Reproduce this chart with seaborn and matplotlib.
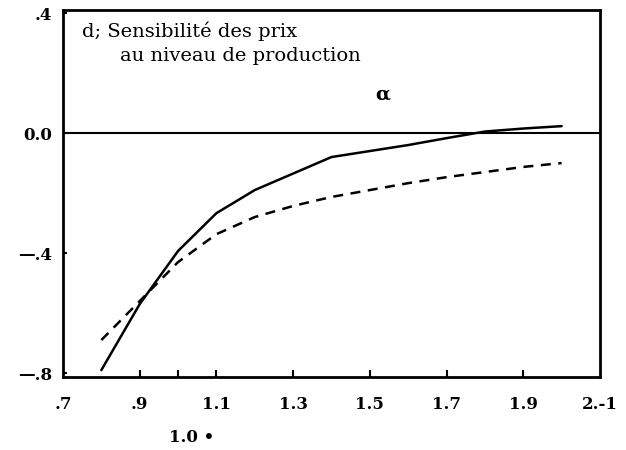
import matplotlib
matplotlib.use("Agg")
import matplotlib.pyplot as plt
import seaborn as sns
import pandas as pd

# ---- data ----
x_vals = [0.8, 0.9, 1.0, 1.1, 1.2, 1.3, 1.4, 1.5, 1.6, 1.7, 1.8, 1.9, 2.0]
solid_vals = [-0.79, -0.57, -0.393, -0.267, -0.19, -0.135, -0.08, -0.06, -0.04, -0.017, 0.005, 0.015, 0.023]
dashed_vals = [-0.69, -0.56, -0.43, -0.337, -0.28, -0.243, -0.213, -0.19, -0.167, -0.147, -0.13, -0.113, -0.10]

xtick_pos = [0.7, 0.9, 1.1, 1.3, 1.5, 1.7, 1.9, 2.1]
xtick_labels = [".7", ".9", "1.1", "1.3", "1.5", "1.7", "1.9", "2.-1"]
xtick_marks = [0.9, 1.0, 1.1, 1.3, 1.5, 1.7, 1.9]
ytick_pos = [0.4, 0.0, -0.4, -0.8]
ytick_labels = [".4", "0.0", "\u2014.4", "\u2014.8"]
title_lines = ["d; Sensibilit\u00e9 des prix", "au niveau de production"]

sns.set_theme(style="white")
plt.rcParams["font.family"] = ["DejaVu Serif", "DejaVu Sans"]
plt.rcParams["text.color"] = "black"
plt.rcParams["xtick.color"] = "black"
plt.rcParams["ytick.color"] = "black"

df = pd.DataFrame({"x": x_vals, "solid": solid_vals, "dashed": dashed_vals})

fig = plt.figure(figsize=(6.26, 4.5), dpi=100)
ax = fig.add_axes([63 / 626, 1 - 377 / 450, (600 - 63) / 626, (377 - 10) / 450])

sns.lineplot(data=df, x="x", y="solid", ax=ax, color="black", lw=1.8)
sns.lineplot(data=df, x="x", y="dashed", ax=ax, color="black", lw=1.8, linestyle=(0, (4, 3)))

ax.axhline(0.0, color="black", lw=1.5)

ax.set_xlim(0.7, 2.1)
ax.set_ylim(-0.813, 0.41)

for s in ax.spines.values():
    s.set_color("black")
    s.set_linewidth(2.0)

ax.xaxis.remove_overlapping_locs = False
ax.set_xticks(xtick_pos)
ax.set_xticklabels(xtick_labels, fontsize=12, fontweight="bold", color="black")
ax.set_xticks(xtick_marks, minor=True)
ax.tick_params(axis="x", which="major", length=0, pad=14)
ax.tick_params(axis="x", which="minor", direction="in", length=5, width=1.5, bottom=True, color="black")

ax.set_yticks(ytick_pos)
ax.set_yticklabels(ytick_labels, fontsize=12, fontweight="bold", color="black")
ax.tick_params(axis="y", which="major", direction="in", length=3, width=1.5, left=True, pad=8, color="black")

ax.set_xlabel("")
ax.set_ylabel("")

fig.text(82 / 626, 1 - 37 / 450, title_lines[0], fontsize=14, va="baseline", ha="left", color="black")
fig.text(120 / 626, 1 - 61 / 450, title_lines[1], fontsize=14, va="baseline", ha="left", color="black")
fig.text(383 / 626, 1 - 95 / 450, "\u03b1", fontsize=14, fontweight="bold", va="center", ha="center", color="black")
fig.text(192 / 626, 1 - 437 / 450, "1.0 \u2022", fontsize=12, fontweight="bold", va="center", ha="center", color="black")

fig.savefig("out.png", dpi=100, facecolor="white")
